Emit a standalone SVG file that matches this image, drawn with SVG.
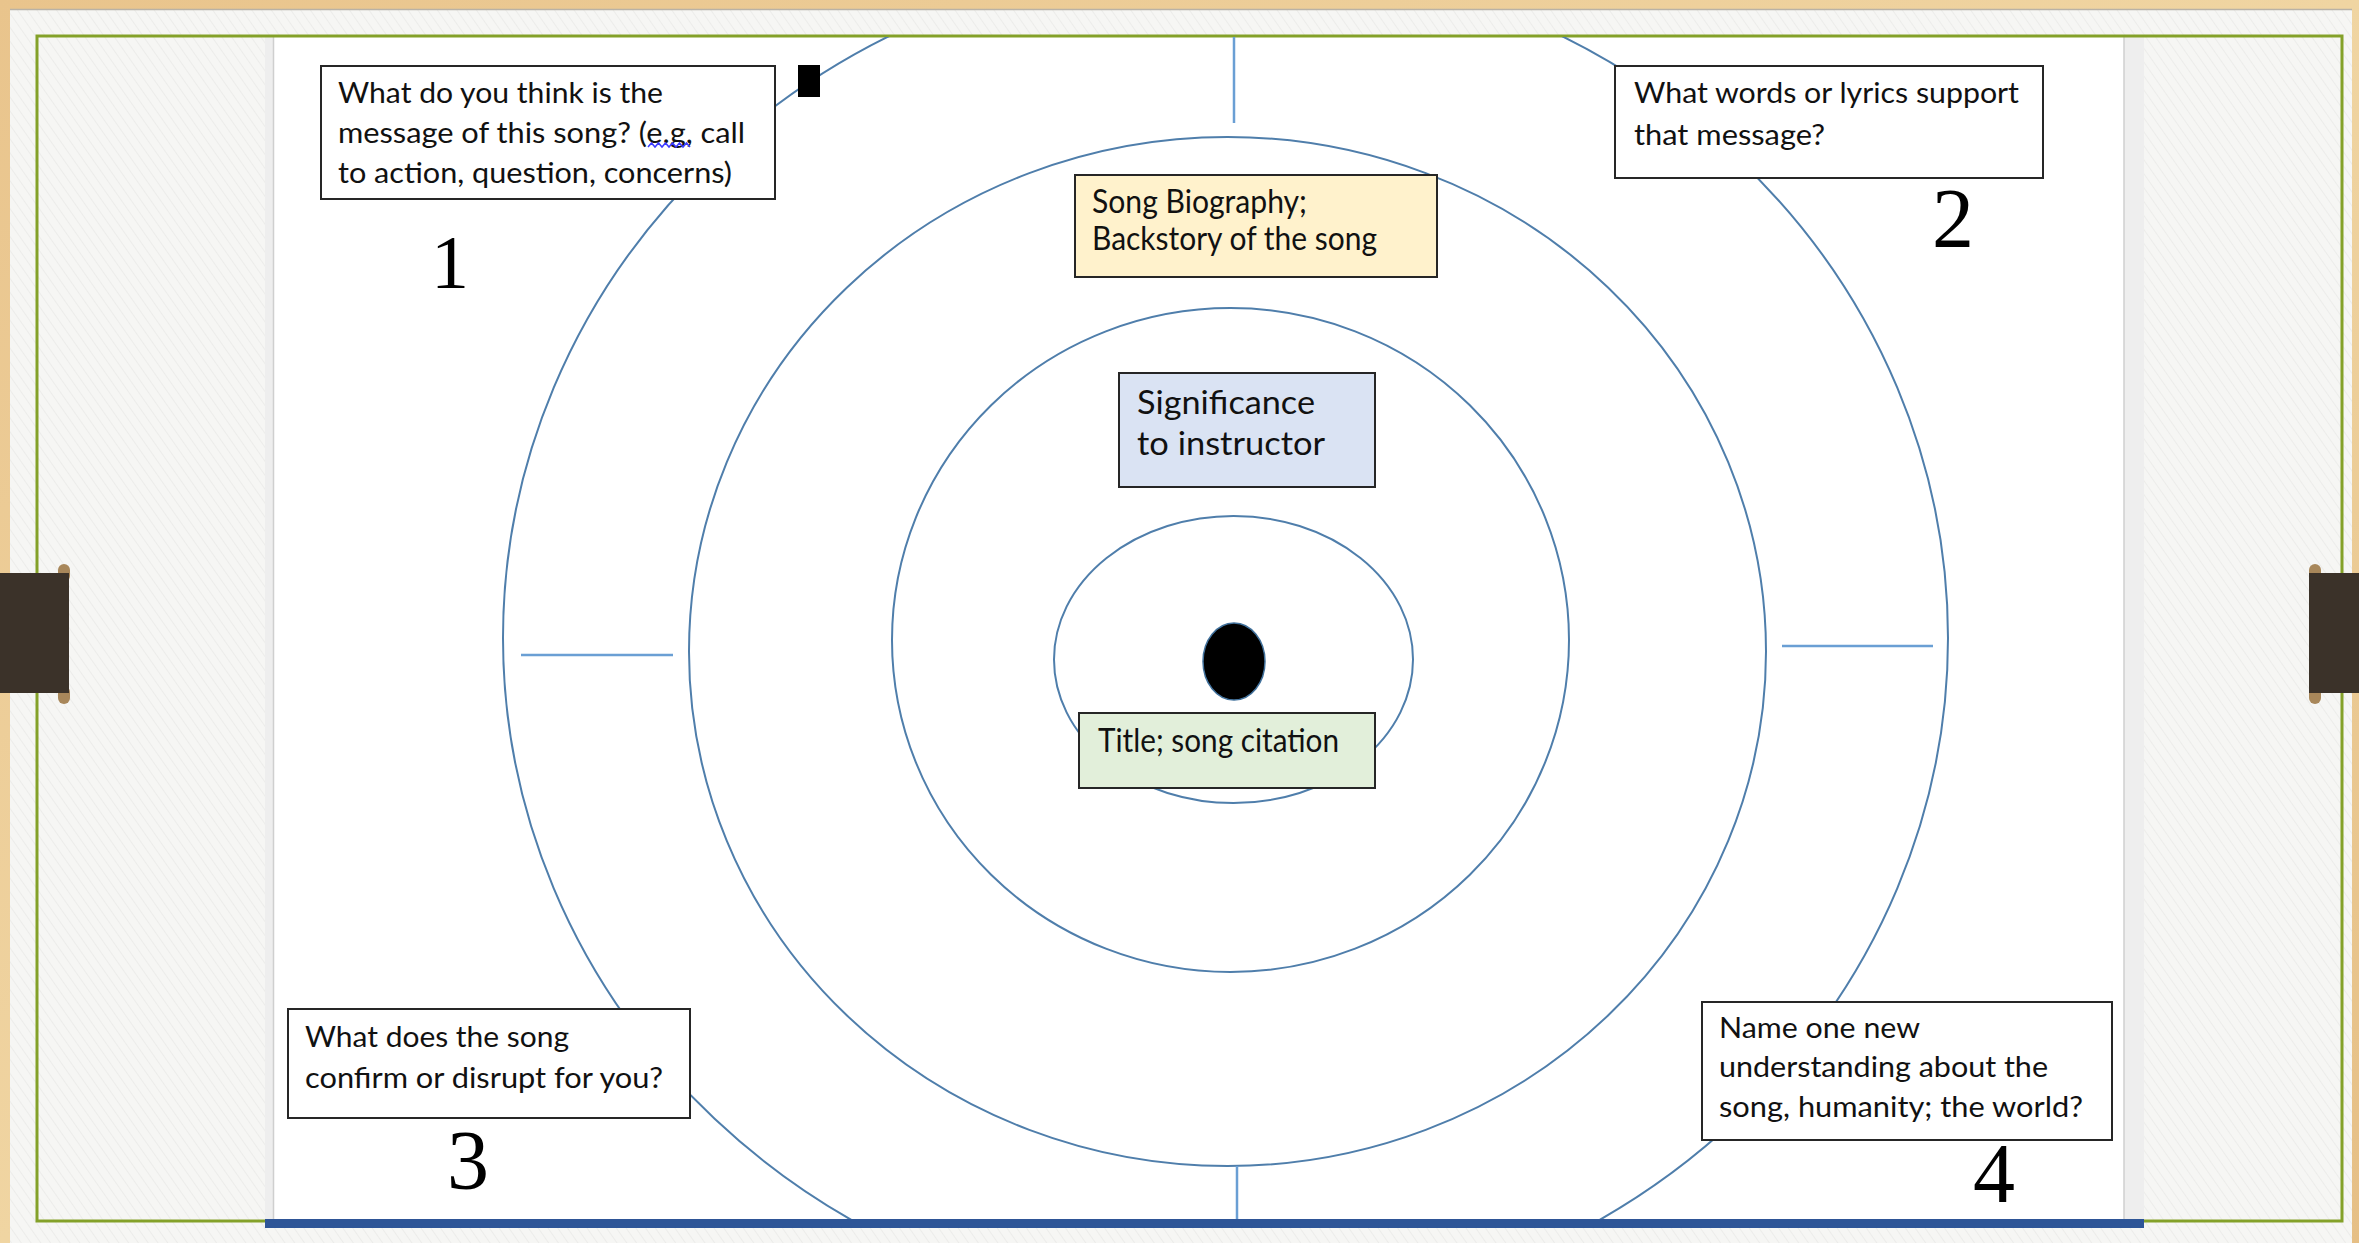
<svg xmlns="http://www.w3.org/2000/svg" width="2359" height="1243" viewBox="0 0 2359 1243">
  <defs>
    <linearGradient id="wood" x1="0" y1="0" x2="1" y2="1">
      <stop offset="0" stop-color="#e9c48c"/>
      <stop offset="0.5" stop-color="#f0d5a2"/>
      <stop offset="1" stop-color="#e6bf85"/>
    </linearGradient>
    <pattern id="tex" width="8" height="8" patternUnits="userSpaceOnUse" patternTransform="rotate(-35)">
      <rect width="8" height="8" fill="#f6f6f4"/>
      <line x1="0" y1="0" x2="0" y2="8" stroke="#ececea" stroke-width="2"/>
    </pattern>
    <clipPath id="pageClip">
      <rect x="273" y="37" width="1851" height="1182"/>
    </clipPath>
    <style>
      .ring { fill: none; stroke: #4f7eab; stroke-width: 2; }
      .tick { stroke: #6a9fd4; stroke-width: 2.5; }
      .qbox { fill: #ffffff; stroke: #262626; stroke-width: 2; }
      .qtext { font-family: Lato, "Liberation Sans", sans-serif; font-size: 28px; fill: #111111; }
      .ctext { font-family: Lato, "Liberation Sans", sans-serif; font-size: 32px; fill: #111111; }
      .num { font-family: "Liberation Serif", "DejaVu Serif", serif; fill: #000000; text-anchor: middle; }
      .clip { fill: #3b3229; }
      .knob { fill: #a8875a; }
    </style>
  </defs>

  <!-- background frame -->
  <rect x="0" y="0" width="2359" height="1243" fill="url(#wood)"/>
  <rect x="10" y="9" width="2342" height="1234" fill="url(#tex)"/>
  <line x1="10" y1="9.5" x2="2352" y2="9.5" stroke="#b9b2a6" stroke-width="1.5"/>

  <!-- page -->
  <rect x="265" y="37" width="1879" height="1182" fill="#eeeeee"/>
  <rect x="273" y="37" width="1851" height="1182" fill="#ffffff"/>
  <line x1="273.5" y1="37" x2="273.5" y2="1219" stroke="#cfcfcf" stroke-width="1.5"/>
  <line x1="2124" y1="37" x2="2124" y2="1219" stroke="#cfcfcf" stroke-width="1.5"/>

  <!-- green border -->
  <rect x="37" y="36" width="2305" height="1185" fill="none" stroke="#84a129" stroke-width="3"/>

  <!-- rings and ticks -->
  <g id="connectors" clip-path="url(#pageClip)">
    <ellipse class="ring" cx="1225.5" cy="638" rx="722.5" ry="680"/>
    <ellipse class="ring" cx="1227.5" cy="651.5" rx="538.5" ry="514.5"/>
    <ellipse class="ring" cx="1230.5" cy="640" rx="338.5" ry="332"/>
    <ellipse class="ring" cx="1233.5" cy="659.5" rx="179.5" ry="143.5"/>
    <line class="tick" x1="1234" y1="37" x2="1234" y2="123"/>
    <line class="tick" x1="1237" y1="1166" x2="1237" y2="1219"/>
    <line class="tick" x1="521" y1="655" x2="673" y2="655"/>
    <line class="tick" x1="1782" y1="646" x2="1933" y2="646"/>
  </g>

  <!-- bottom blue bar -->
  <rect x="265" y="1219" width="1879" height="9" fill="#2e5597"/>

  <!-- side clips -->
  <g id="clip-left">
    <rect class="knob" x="58" y="564" width="12" height="18" rx="6"/>
    <rect class="knob" x="58" y="686" width="12" height="18" rx="6"/>
    <rect class="clip" x="0" y="573" width="69" height="120"/>
  </g>
  <g id="clip-right">
    <rect class="knob" x="2309" y="564" width="12" height="18" rx="6"/>
    <rect class="knob" x="2309" y="686" width="12" height="18" rx="6"/>
    <rect class="clip" x="2309" y="573" width="50" height="120"/>
  </g>

  <!-- center dot -->
  <g id="center-dot">
    <ellipse cx="1234" cy="661.5" rx="31" ry="38.5" fill="#000000" stroke="#41719c" stroke-width="1.5"/>
  </g>

  <!-- marker square -->
  <g id="marker">
    <rect x="798" y="65" width="22" height="32" fill="#000000"/>
  </g>

  <!-- question 1 -->
  <g id="q1">
    <rect class="qbox" x="321" y="66" width="454" height="133"/>
    <text class="qtext" x="338" y="103" textLength="325" lengthAdjust="spacingAndGlyphs">What do you think is the</text>
    <text class="qtext" x="338" y="143" textLength="407" lengthAdjust="spacingAndGlyphs">message of this song? (e.g, call</text>
    <text class="qtext" x="338" y="183" textLength="394" lengthAdjust="spacingAndGlyphs">to action, question, concerns)</text>
    <path d="M648 147 l3.5 -4 l3.5 4 l3.5 -4 l3.5 4 l3.5 -4 l3.5 4 l3.5 -4 l3.5 4 l3.5 -4 l3.5 4 l3.5 -4 l3.5 4" fill="none" stroke="#3b3bff" stroke-width="1.5"/>
  </g>
  <g id="num1"><text class="num" x="450" y="288" font-size="76">1</text></g>

  <!-- question 2 -->
  <g id="q2">
    <rect class="qbox" x="1615" y="66" width="428" height="112"/>
    <text class="qtext" x="1634" y="103" textLength="385" lengthAdjust="spacingAndGlyphs">What words or lyrics support</text>
    <text class="qtext" x="1634" y="145" textLength="191" lengthAdjust="spacingAndGlyphs">that message?</text>
  </g>
  <g id="num2"><text class="num" x="1953" y="247" font-size="84">2</text></g>

  <!-- question 3 -->
  <g id="q3">
    <rect class="qbox" x="288" y="1009" width="402" height="109"/>
    <text class="qtext" x="305" y="1047" textLength="264" lengthAdjust="spacingAndGlyphs">What does the song</text>
    <text class="qtext" x="305" y="1088" textLength="358" lengthAdjust="spacingAndGlyphs">confirm or disrupt for you?</text>
  </g>
  <g id="num3"><text class="num" x="468" y="1189" font-size="84">3</text></g>

  <!-- question 4 -->
  <g id="q4">
    <rect class="qbox" x="1702" y="1002" width="410" height="138"/>
    <text class="qtext" x="1719" y="1038" textLength="201" lengthAdjust="spacingAndGlyphs">Name one new</text>
    <text class="qtext" x="1719" y="1077" textLength="329" lengthAdjust="spacingAndGlyphs">understanding about the</text>
    <text class="qtext" x="1719" y="1117" textLength="364" lengthAdjust="spacingAndGlyphs">song, humanity; the world?</text>
  </g>
  <g id="num4"><text class="num" x="1994" y="1202" font-size="84">4</text></g>

  <!-- center labels -->
  <g id="song-biography">
    <rect x="1075" y="175" width="362" height="102" fill="#fff2cc" stroke="#262626" stroke-width="2"/>
    <text class="ctext" x="1092" y="213" font-size="30" textLength="215" lengthAdjust="spacingAndGlyphs">Song Biography;</text>
    <text class="ctext" x="1092" y="250" font-size="30" textLength="285" lengthAdjust="spacingAndGlyphs">Backstory of the song</text>
  </g>
  <g id="significance">
    <rect x="1119" y="373" width="256" height="114" fill="#dae3f3" stroke="#262626" stroke-width="2"/>
    <text class="ctext" x="1137" y="414" font-size="33" textLength="178" lengthAdjust="spacingAndGlyphs">Significance</text>
    <text class="ctext" x="1137" y="455" font-size="33" textLength="188" lengthAdjust="spacingAndGlyphs">to instructor</text>
  </g>
  <g id="title">
    <rect x="1079" y="713" width="296" height="75" fill="#e2efda" stroke="#262626" stroke-width="2"/>
    <text class="ctext" x="1098" y="752" textLength="241" lengthAdjust="spacingAndGlyphs">Title; song citation</text>
  </g>
</svg>
